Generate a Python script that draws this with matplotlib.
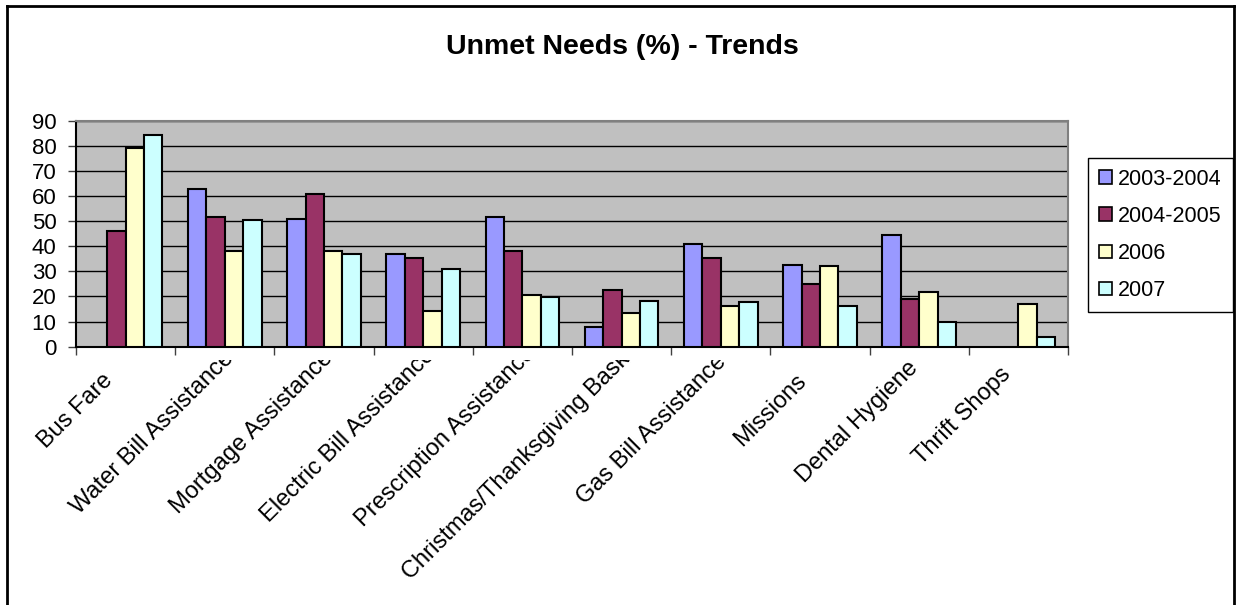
import numpy as np
import matplotlib
matplotlib.use("Agg")
import matplotlib.pyplot as plt
from matplotlib.lines import Line2D
from matplotlib.patches import Patch
from matplotlib.transforms import Bbox, ScaledTranslation, blended_transform_factory

plt.rcParams['font.family'] = ['Liberation Sans', 'DejaVu Sans']

categories = ["Bus Fare", "Water Bill Assistance", "Mortgage Assistance",
              "Electric Bill Assistance", "Prescription Assistance",
              "Christmas/Thanksgiving Baskets", "Gas Bill Assistance",
              "Missions", "Dental Hygiene", "Thrift Shops"]
series = ["2003-2004", "2004-2005", "2006", "2007"]
v_2003_2004 = [np.nan, 63, 51, 37, 51.7, 7.7, 41, 32.7, 44.6, np.nan]
v_2004_2005 = [46, 51.7, 61, 35.5, 38.2, 22.6, 35.5, 24.8, 19.1, np.nan]
v_2006 = [79.3, 38.2, 38.2, 14.1, 20.5, 13.4, 16.2, 32, 21.9, 17]
v_2007 = [84.5, 50.3, 36.8, 31, 19.8, 18.3, 17.7, 16.2, 10, 4]
colors = ["#9999FF", "#993366", "#FFFFCC", "#CCFFFF"]

W, H = 1236, 605
fig = plt.figure(figsize=(W / 100, H / 100), dpi=100)
ax = fig.add_axes([76 / W, 1 - 346.7 / H, (1068 - 76) / W, 226 / H])
ax.set_facecolor("#C0C0C0")

x = np.arange(len(categories))
bw = 0.185
allvals = [v_2003_2004, v_2004_2005, v_2006, v_2007]
for k, (vals, c) in enumerate(zip(allvals, colors)):
    ax.bar(x + (k - 1.5) * bw, vals, width=bw, color=c, edgecolor="black",
           linewidth=1.5, zorder=3)

ax.set_xlim(-0.5, len(categories) - 0.5)
ax.set_ylim(0, 90)
ax.set_yticks(np.arange(0, 91, 10))
ax.yaxis.grid(True, color="black", linewidth=1)
ax.set_axisbelow(True)
ax.set_xticks(np.arange(-0.5, len(categories), 1))
ax.set_xticklabels([])
ax.tick_params(axis="x", direction="out", length=6, width=1, color="#404040")
ax.tick_params(axis="y", direction="out", length=6, width=1, color="#404040",
               labelsize=16, pad=8)
for s in ["left", "bottom"]:
    ax.spines[s].set_color("black")
    ax.spines[s].set_linewidth(1.5)
for s in ["top", "right"]:
    ax.spines[s].set_color("#808080")
    ax.spines[s].set_linewidth(1.5)

# category labels, rotated and cut off just under the axis like Excel
trans = blended_transform_factory(ax.transData, ax.transAxes)
clip = Bbox([[0, 0], [W, H - 360]])
labels = []
for i, lab in enumerate(categories):
    t = ax.text(x[i], 0, lab, transform=trans, rotation=45,
                rotation_mode="anchor", ha="right", va="top", fontsize=17)
    t.set_clip_box(clip)
    t.set_clip_on(True)
    labels.append(t)

fig.canvas.draw()
rend = fig.canvas.get_renderer()
for t in labels:
    p = t.get_window_extent(rend).height
    e = 22 - 0.25 * (p - 85)   # longer labels slide up past the axis
    t.set_transform(trans + ScaledTranslation(-(e + 2) / 100, -e / 100,
                                              fig.dpi_scale_trans))

fig.text(622 / W, 1 - 47 / H, "Unmet Needs (%) - Trends", ha="center",
         va="center", fontsize=20.5, fontweight="bold")

handles = [Patch(facecolor=c, edgecolor="black", linewidth=1.2) for c in colors]
leg = fig.legend(handles, series, loc="upper left",
                 bbox_to_anchor=(1088 / W, 1 - 158 / H), fontsize=15.5,
                 frameon=True, fancybox=False, edgecolor="black",
                 framealpha=1, handlelength=0.6, handleheight=0.6,
                 handletextpad=0.3, labelspacing=0.75, borderpad=0.5,
                 borderaxespad=0)
leg.get_frame().set_linewidth(1)

# outer chart border
for xs, ys in [([7 / W, 7 / W], [0, 1 - 6 / H]),
               ([7 / W, 1234 / W], [1 - 6 / H, 1 - 6 / H]),
               ([1234 / W, 1234 / W], [0, 1 - 6 / H])]:
    fig.add_artist(Line2D(xs, ys, color="black", linewidth=2,
                          transform=fig.transFigure))

fig.savefig("out.png", dpi=100)
